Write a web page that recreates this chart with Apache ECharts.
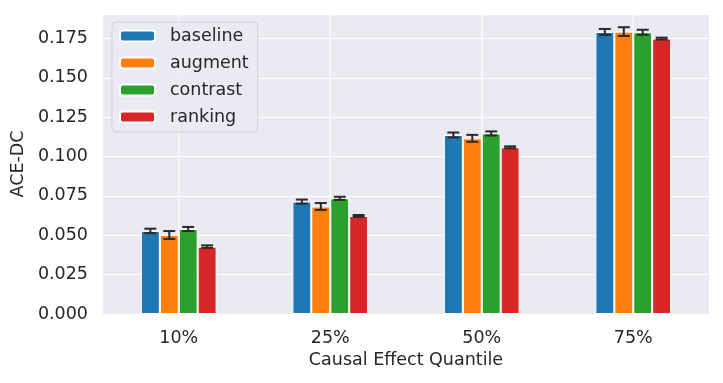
<!DOCTYPE html>
<html>
<head>
<meta charset="utf-8">
<script src="https://cdn.jsdelivr.net/npm/echarts@6/dist/echarts.min.js"></script>
<style>
  html, body { margin: 0; padding: 0; background: #fff; }
  #main { width: 723px; height: 383px; }
</style>
</head>
<body>
<div id="main"></div>
<script>
// data
var categories = ['10%', '25%', '50%', '75%'];
var seriesNames = ['baseline', 'augment', 'contrast', 'ranking'];
var colors = ['#1f77b4', '#ff7f0e', '#2ca02c', '#d62728'];

var baseline = [0.0528, 0.0714, 0.1137, 0.1792];
var augment  = [0.0502, 0.0683, 0.1116, 0.1794];
var contrast = [0.0540, 0.0735, 0.1147, 0.1790];
var ranking  = [0.0428, 0.0623, 0.1059, 0.1750];

// half widths of the error bars
var baselineErr = [0.0014, 0.0013, 0.0016, 0.0019];
var augmentErr  = [0.0025, 0.0022, 0.0022, 0.0028];
var contrastErr = [0.0013, 0.0010, 0.0013, 0.0016];
var rankingErr  = [0.0008, 0.0006, 0.0006, 0.0006];

var yTicks = [0, 0.025, 0.05, 0.075, 0.1, 0.125, 0.15, 0.175];

var values = [baseline, augment, contrast, ranking];
var errs = [baselineErr, augmentErr, contrastErr, rankingErr];

var myChart = echarts.init(document.getElementById('main'));
var textColor = '#262626';
var font = 'DejaVu Sans';
var fs = 17.5;
var catGap = 0.5;   // share of band left empty

var series = [];

// vertical grid lines at category centres
series.push({
    type: 'custom',
    silent: true,
    z: 1,
    data: categories.map(function (c, i) { return [i, 0]; }),
    encode: { x: 0, y: 1 },
    renderItem: function (params, api) {
        var cs = params.coordSys;
        var x = api.coord([api.value(0), 0])[0];
        return {
            type: 'line',
            shape: { x1: x, y1: cs.y, x2: x, y2: cs.y + cs.height },
            style: { stroke: '#fff', lineWidth: 1.2 }
        };
    }
});

seriesNames.forEach(function (name, s) {
    series.push({
        name: name,
        type: 'bar',
        z: 2,
        barGap: '0%',
        barCategoryGap: (catGap * 100) + '%',
        itemStyle: { color: colors[s], borderColor: '#fff', borderWidth: 1 },
        data: values[s]
    });
});

// error bars
var errData = [];
seriesNames.forEach(function (name, s) {
    values[s].forEach(function (v, i) {
        errData.push([i, s, v - errs[s][i], v + errs[s][i]]);
    });
});
series.push({
    type: 'custom',
    silent: true,
    z: 5,
    data: errData,
    encode: { x: 0, y: [2, 3] },
    renderItem: function (params, api) {
        var cat = api.value(0);
        var s = api.value(1);
        var band = api.size([1, 0])[0];
        var bw = band * (1 - catGap) / seriesNames.length;
        var cx = api.coord([cat, 0])[0] + (s - (seriesNames.length - 1) / 2) * bw;
        var lo = api.coord([cat, api.value(2)])[1];
        var hi = api.coord([cat, api.value(3)])[1];
        var cap = 6;
        var st = { stroke: '#2a2a2a', lineWidth: 2 };
        return {
            type: 'group',
            children: [
                { type: 'line', shape: { x1: cx, y1: lo, x2: cx, y2: hi }, style: st },
                { type: 'line', shape: { x1: cx - cap, y1: lo, x2: cx + cap, y2: lo }, style: st },
                { type: 'line', shape: { x1: cx - cap, y1: hi, x2: cx + cap, y2: hi }, style: st }
            ]
        };
    }
});

myChart.setOption({
    animation: false,
    textStyle: { fontFamily: font },
    grid: {
        show: true,
        left: 103,
        right: 14,
        top: 14,
        bottom: 69,
        backgroundColor: '#eaeaf2',
        borderWidth: 0
    },
    legend: {
        orient: 'vertical',
        left: 112,
        top: 22,
        data: seriesNames,
        itemWidth: 35,
        itemHeight: 11,
        itemGap: 9,
        padding: [5, 9, 6, 7],
        backgroundColor: 'rgba(234,234,242,0.85)',
        borderColor: '#d0d0d8',
        borderWidth: 1,
        borderRadius: 4,
        textStyle: {
            color: textColor,
            fontFamily: font,
            fontSize: fs,
            lineHeight: 18,
            padding: [0, 0, 0, 10]
        }
    },
    xAxis: {
        type: 'category',
        data: categories,
        name: 'Causal Effect Quantile',
        nameLocation: 'middle',
        nameGap: 32,
        nameTextStyle: { color: textColor, fontSize: fs, fontFamily: font },
        axisLine: { show: false },
        axisTick: { show: false },
        splitLine: { show: false },
        axisLabel: { color: textColor, fontSize: fs, margin: 15, fontFamily: font }
    },
    yAxis: {
        type: 'value',
        min: 0,
        max: 0.1906,
        interval: 0.025,
        name: 'ACE-DC',
        nameLocation: 'middle',
        nameGap: 74,
        nameTextStyle: { color: textColor, fontSize: fs, fontFamily: font },
        axisLine: { show: false },
        axisTick: { show: false },
        splitLine: { show: true, lineStyle: { color: '#fff', width: 1.2 } },
        axisLabel: {
            color: textColor,
            fontSize: fs,
            margin: 15,
            fontFamily: font,
            formatter: function (v) {
                return yTicks.indexOf(+v.toFixed(3)) >= 0 ? v.toFixed(3) : '';
            }
        }
    },
    series: series
});
</script>
</body>
</html>
